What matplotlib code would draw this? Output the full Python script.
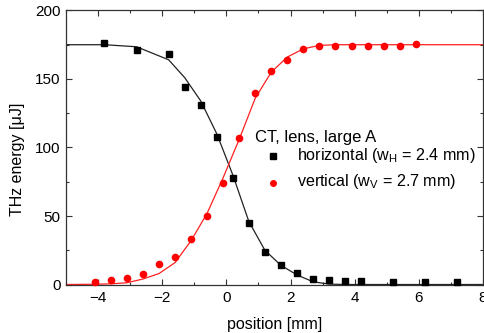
import numpy as np
import matplotlib
matplotlib.use("Agg")
import matplotlib.pyplot as plt
from matplotlib.ticker import MultipleLocator

plt.rcParams['font.family'] = ['Liberation Sans', 'DejaVu Sans']
plt.rcParams['mathtext.fontset'] = 'custom'
plt.rcParams['mathtext.rm'] = 'Liberation Sans'
plt.rcParams['mathtext.it'] = 'Liberation Sans:italic'

#%% ── dados ──────────────────────────────────────────────────────────────────
# horizontal (quadrados pretos)
pos_h = [-3.8, -2.8, -1.8, -1.3, -0.8, -0.3, 0.2, 0.7, 1.2, 1.7,
         2.2, 2.7, 3.2, 3.7, 4.2, 5.2, 6.2, 7.2]
e_h   = [176, 171, 168, 144, 131, 108, 78, 45, 24, 14,
         8.5, 4, 3.5, 2.5, 2.5, 2, 1.5, 1.5]

# vertical (circulos vermelhos)
pos_v = [-4.1, -3.6, -3.1, -2.6, -2.1, -1.6, -1.1, -0.6, -0.1, 0.4,
         0.9, 1.4, 1.9, 2.4, 2.9, 3.4, 3.9, 4.4, 4.9, 5.4, 5.9]
e_v   = [2, 3, 4.5, 8, 15, 20, 33, 50, 74, 107,
         140, 156, 164, 172, 174, 174, 174, 174, 174, 174, 175.5]

# curvas de ajuste (lidas ponto a ponto)
fit_h_x = [-5, -3.8, -2.8, -1.8, -1.3, -0.8, -0.3, 0.2, 0.7, 1.2,
           1.7, 2.2, 2.7, 3.2, 3.7, 8]
fit_h_y = [175, 175, 173.5, 164, 151, 134, 110, 80, 46, 25,
           14, 7, 2, 0.3, 0, 0]

fit_v_x = [-5, -4.1, -3.6, -3.1, -2.6, -2.1, -1.6, -1.1, -0.6, -0.1,
           0.4, 0.9, 1.4, 1.9, 2.4, 2.9, 3.4, 8]
fit_v_y = [0, 0.2, 0.5, 1.3, 4, 8, 16, 32, 52, 78,
           106, 136, 155, 166, 172, 174.5, 175, 175]

legend_title = "CT, lens, large A"
label_h = r"horizontal (w$_\mathrm{H}$ = 2.4 mm)"
label_v = r"vertical (w$_\mathrm{V}$ = 2.7 mm)"

#%% ── figura ────────────────────────────────────────────────────────────────
fig = plt.figure(figsize=(4.85, 3.33), dpi=100)
ax = fig.add_axes([0.136, 0.1456, 0.860, 0.823])

ax.plot(fit_h_x, fit_h_y, color="#222222", linewidth=0.9, zorder=2)
ax.plot(fit_v_x, fit_v_y, color="#ff2020", linewidth=0.9, zorder=2)

ax.plot(pos_h, e_h, linestyle="none", marker="s", markersize=5,
        color="black", zorder=3, clip_on=False)
ax.plot(pos_v, e_v, linestyle="none", marker="o", markersize=5.5,
        color="#ff0000", markeredgewidth=0, zorder=3, clip_on=False)

ax.set_xlim(-5, 8)
ax.set_ylim(0, 200)
ax.xaxis.set_major_locator(MultipleLocator(2))
ax.xaxis.set_minor_locator(MultipleLocator(1))
ax.yaxis.set_major_locator(MultipleLocator(50))
ax.yaxis.set_minor_locator(MultipleLocator(25))

ax.tick_params(which="both", direction="in", top=True, right=True,
               color="#333333", labelsize=11)
ax.tick_params(axis="x", which="major", pad=5)
ax.tick_params(axis="y", which="major", pad=4)
ax.tick_params(which="major", length=4, width=0.8)
ax.tick_params(which="minor", length=2.5, width=0.8)

for sp in ax.spines.values():
    sp.set_color("#333333")
    sp.set_linewidth(0.9)

ax.set_xlabel("position [mm]", fontsize=11.5, labelpad=8)
ax.set_ylabel("THz energy [μJ]", fontsize=11.5)
ax.yaxis.set_label_coords(-0.099, 0.458)

# legenda manual
ax.text(0.453, 0.521, legend_title, transform=ax.transAxes,
        fontsize=12, ha="left", va="baseline")
ax.plot([0.497], [0.469], marker="s", markersize=4.5, color="black",
        transform=ax.transAxes, clip_on=False)
ax.text(0.553, 0.456, label_h, transform=ax.transAxes,
        fontsize=11.6, ha="left", va="baseline")
ax.plot([0.497], [0.3715], marker="o", markersize=5, color="#ff0000",
        markeredgewidth=0, transform=ax.transAxes, clip_on=False)
ax.text(0.553, 0.361, label_v, transform=ax.transAxes,
        fontsize=11.6, ha="left", va="baseline")

fig.savefig("out.png", dpi=100)
